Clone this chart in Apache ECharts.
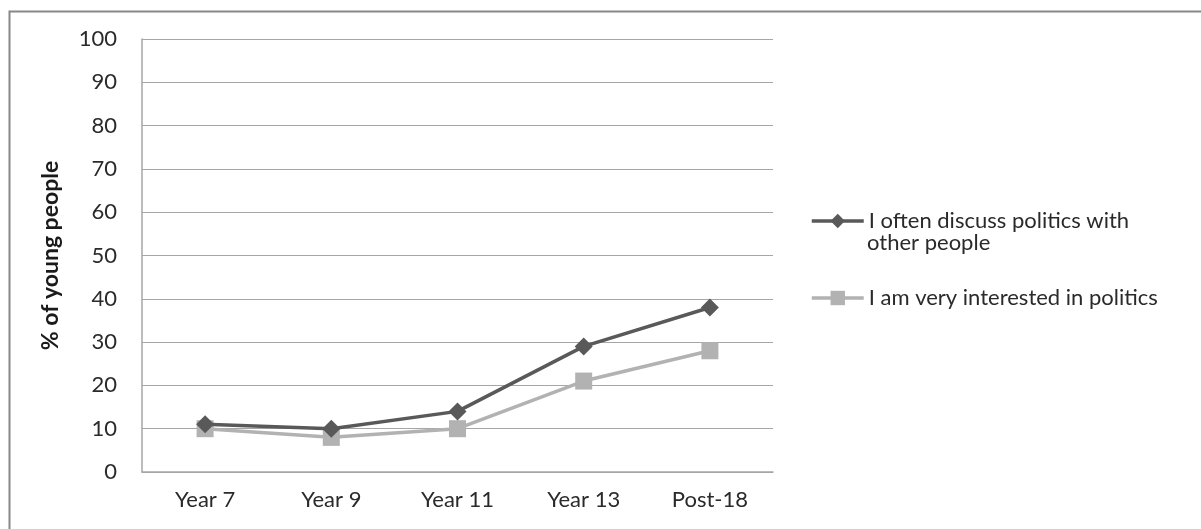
<!DOCTYPE html>
<html>
<head>
<meta charset="utf-8">
<script src="https://cdn.jsdelivr.net/npm/echarts@6/dist/echarts.min.js"></script>
<style>
  html, body { margin: 0; padding: 0; background: #fff; }
  #chart { width: 1201px; height: 529px; }
</style>
</head>
<body>
<div id="chart"></div>
<script>
const categories = ['Year 7', 'Year 9', 'Year 11', 'Year 13', 'Post-18'];
const discussName = 'I often discuss politics with other people';
const discussValues = [11, 10, 14, 29, 38];
const interestName = 'I am very interested in politics';
const interestValues = [10, 8, 10, 21, 28];
const yTicks = [0, 10, 20, 30, 40, 50, 60, 70, 80, 90, 100];

// the long legend entry wraps after "with"; the icon sits on its first line
const discussFirstLine = 'I often discuss politics with';
const discussSecondLine = 'other people';

const FONT = 'Lato, "Open Sans", sans-serif';
const TEXT = '#2a2a2a';
const chart = echarts.init(document.getElementById('chart'), null, { renderer: 'canvas' });

const legendBase = {
  orient: 'vertical',
  left: 805,
  itemWidth: 52,
  itemHeight: 18,
  lineStyle: { width: 3.5 },
  textStyle: { fontFamily: FONT, fontSize: 22, color: TEXT }
};

chart.setOption({
  animation: false,
  backgroundColor: '#fff',
  graphic: [
    {
      type: 'rect',
      left: 7, top: 9,
      shape: { width: 1210, height: 540 },
      style: { fill: 'none', stroke: '#888', lineWidth: 2 },
      silent: true
    },
    {
      type: 'text',
      x: 867, y: 243,
      style: {
        text: discussSecondLine,
        fontFamily: FONT, fontSize: 22, fill: TEXT,
        align: 'left', verticalAlign: 'middle'
      },
      silent: true
    }
  ],
  grid: { left: 142, right: 428, top: 39, bottom: 57, containLabel: false },
  legend: [
    Object.assign({}, legendBase, {
      top: 205,
      data: [discussName],
      formatter: function () { return discussFirstLine; }
    }),
    Object.assign({}, legendBase, {
      top: 282,
      data: [interestName]
    })
  ],
  xAxis: {
    type: 'category',
    data: categories,
    boundaryGap: true,
    axisLine: { lineStyle: { color: '#a6a6a6', width: 1.5 } },
    axisTick: { show: false },
    axisLabel: { fontFamily: FONT, fontSize: 22, color: TEXT, margin: 17 }
  },
  yAxis: {
    type: 'value',
    min: yTicks[0],
    max: yTicks[yTicks.length - 1],
    interval: 10,
    name: '% of young people',
    nameLocation: 'middle',
    nameGap: 80,
    nameTextStyle: { fontFamily: FONT, fontSize: 23, fontWeight: 'bold', color: '#1a1a1a' },
    axisLine: { show: true, lineStyle: { color: '#a6a6a6', width: 1.5 } },
    axisTick: { show: false },
    axisLabel: { fontFamily: FONT, fontSize: 22, color: TEXT, margin: 25 },
    splitLine: { lineStyle: { color: '#a6a6a6', width: 1.2 } }
  },
  series: [
    {
      name: discussName,
      type: 'line',
      data: discussValues,
      symbol: 'diamond',
      symbolSize: 18,
      itemStyle: { color: '#595959' },
      lineStyle: { color: '#595959', width: 3.5 },
      z: 3
    },
    {
      name: interestName,
      type: 'line',
      data: interestValues,
      symbol: 'rect',
      symbolSize: 17,
      itemStyle: { color: '#b2b2b2' },
      lineStyle: { color: '#b2b2b2', width: 3.5 },
      z: 2
    }
  ]
});
</script>
</body>
</html>
